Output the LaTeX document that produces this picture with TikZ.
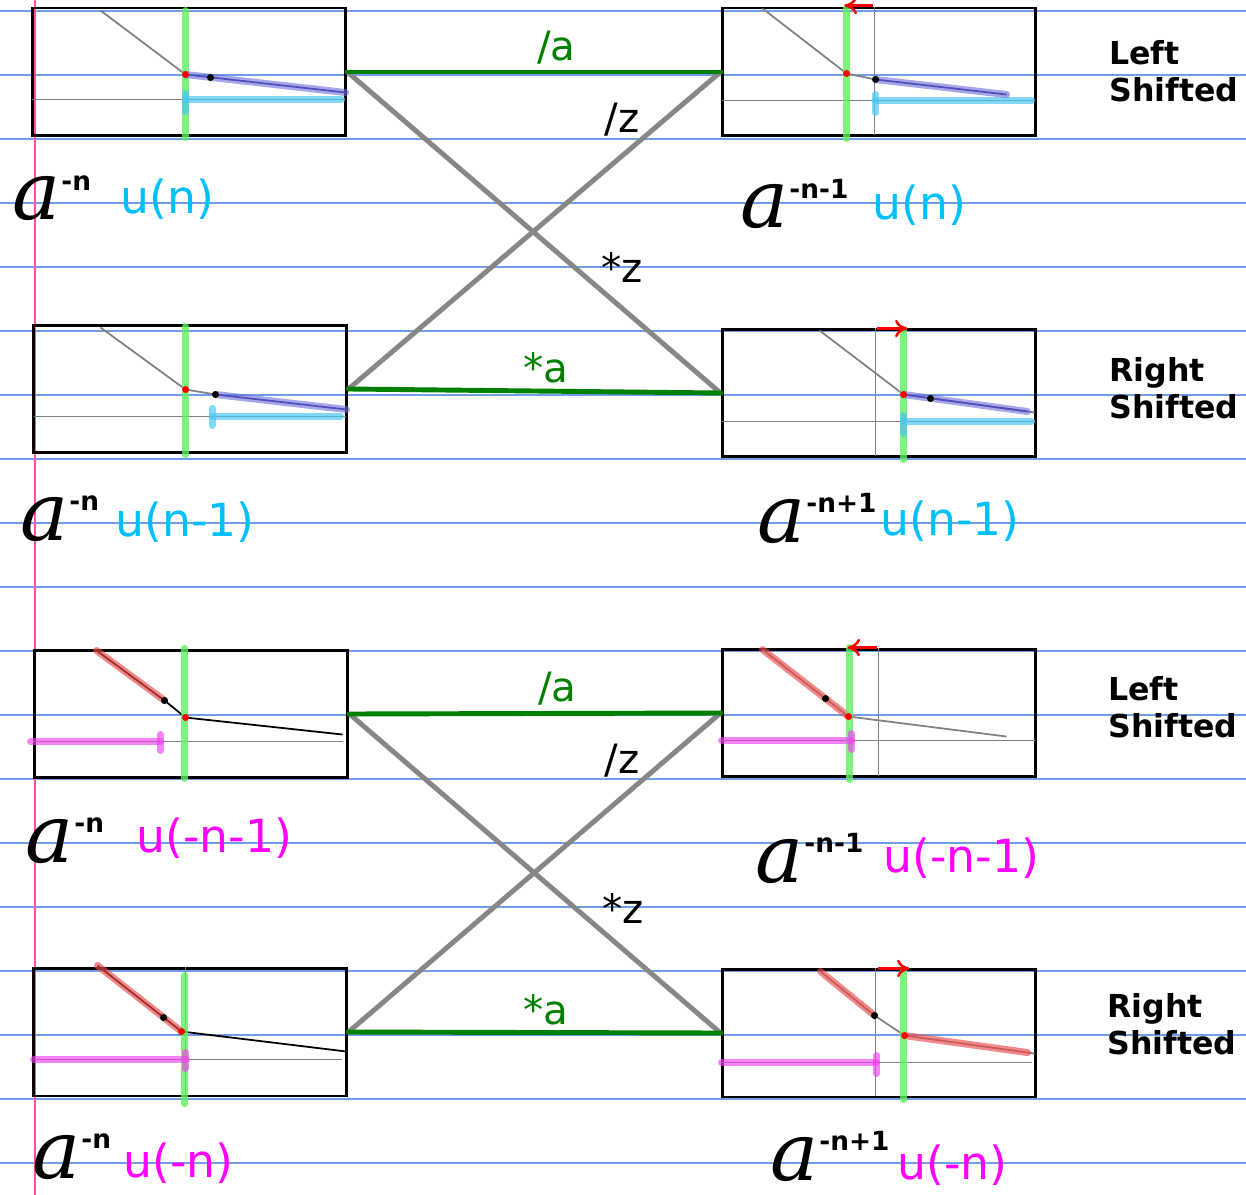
\documentclass[tikz,border=0pt]{standalone}
\usepackage{fontspec}
\setmainfont{DejaVu Sans}
\newfontfamily\handfont{DejaVu Serif}
\usetikzlibrary{arrows.meta}
\definecolor{paperline}{HTML}{6F9FE6}
\definecolor{marginpink}{HTML}{FF4FA8}
\definecolor{linkgreen}{HTML}{008000}
\definecolor{crossgray}{HTML}{878787}
\definecolor{zerogreen}{HTML}{5EF05E}
\definecolor{hlblue}{HTML}{6A6ADC}
\definecolor{coreblue}{HTML}{2A2A80}
\definecolor{hlcyan}{HTML}{4CC6F2}
\definecolor{hlred}{HTML}{EE4A4A}
\definecolor{hlmag}{HTML}{F040F0}
\definecolor{ucyan}{HTML}{00BFFF}
\definecolor{umag}{HTML}{FF00FF}
\newcommand{\apow}[1]{{\fontsize{46}{46}\handfont\itshape a}\kern0.5pt\raisebox{17pt}{\fontsize{15}{15}\selectfont\bfseries #1}}
\tikzset{
  panel/.style={draw,line width=1.7pt,minimum width=6.28cm,minimum height=2.56cm,inner sep=0pt},
  thinln/.style={draw=gray,line width=1pt},
  blackln/.style={draw=black,line width=1pt},
  zeroln/.style={draw=zerogreen,line width=4pt,line cap=round,opacity=0.8},
  bluehl/.style={draw=hlblue,line width=4pt,line cap=round,opacity=0.6},
  bluecore/.style={draw=coreblue,line width=1pt},
  cyanhl/.style={draw=hlcyan,line width=4pt,line cap=round,opacity=0.7},
  redhl/.style={draw=hlred,line width=4pt,line cap=round,opacity=0.65},
  maghl/.style={draw=hlmag,line width=4pt,line cap=round,opacity=0.65},
  reddot/.style={fill=red},
  blkdot/.style={fill=black},
  shiftarr/.style={draw=red,line width=1.4pt,-{To[length=2.5mm,width=3.5mm]}},
  link/.style={draw=linkgreen,line width=2.8pt,line cap=round},
  cross/.style={draw=crossgray,line width=2.8pt,line cap=round},
  lbl/.style={inner sep=1pt,font=\fontsize{23}{23}\selectfont},
  ulabel/.style={anchor=base west,inner sep=0pt,font=\fontsize{26}{26}\selectfont},
  alabel/.style={anchor=base west,inner sep=0pt},
  sidenote/.style={anchor=west,align=left,inner sep=0pt,font=\fontsize{18}{21}\selectfont\bfseries}
}
\begin{document}
\begin{tikzpicture}[x=0.02cm,y=-0.02cm]
  \useasboundingbox (0,0) rectangle (1246,1195);
  % lined paper
  \foreach \k in {0,...,18}
    \draw[paperline,line width=0.6pt] (0,{11+64*\k}) -- (1246,{11+64*\k});
  \draw[marginpink,line width=0.9pt] (35,0) -- (35,1195);

  % plot frames
  \node[panel] (pA) at (189,72) {};
  \node[panel] (pB) at (879,72) {};
  \node[panel] (pC) at (190,389) {};
  \node[panel] (pD) at (879,393) {};
  \node[panel] (pE) at (191,714) {};
  \node[panel] (pF) at (879,713) {};
  \node[panel] (pG) at (190,1032) {};
  \node[panel] (pH) at (879,1033) {};

  % a^-n u(n)
  \begin{scope}[shift={(pA.north west)}]
    \draw[thinln] (1,93) -- (314,93);
    \draw[thinln] (70,4) -- (155,68);
    \draw[zeroln] (155,4) -- (155,131);
    \draw[cyanhl] (155,93) -- (311,93);
    \draw[cyanhl] (155,87) -- (155,105);
    \draw[bluecore] (155,68) -- (315,86);
    \draw[bluehl] (155,68) -- (315,86);
    \fill[reddot] (155,68) circle[radius=2pt];
    \fill[blkdot] (180,71) circle[radius=2pt];
  \end{scope}

  % left shifted
  \begin{scope}[shift={(pB.north west)}]
    \draw[thinln] (1,94) -- (314,94);
    \draw[thinln] (154,0) -- (154,128);
    \draw[thinln] (42,2) -- (126,67) -- (155,73);
    \draw[zeroln] (126,1) -- (126,132);
    \draw[cyanhl] (155,94) -- (311,94);
    \draw[cyanhl] (155,88) -- (155,106);
    \draw[bluecore] (155,73) -- (286,88);
    \draw[bluehl] (155,73) -- (286,88);
    \fill[reddot] (126,67) circle[radius=2pt];
    \fill[blkdot] (155,73) circle[radius=2pt];
    \draw[shiftarr] (152,-1) -- (124,-1);
  \end{scope}

  % a^-n u(n-1)
  \begin{scope}[shift={(pC.north west)}]
    \draw[thinln] (2,93) -- (314,93);
    \draw[thinln] (69,4) -- (154,66) -- (184,71);
    \draw[zeroln] (154,3) -- (154,131);
    \draw[cyanhl] (181,93) -- (309,93);
    \draw[cyanhl] (181,85) -- (181,102);
    \draw[bluecore] (184,71) -- (315,86);
    \draw[bluehl] (184,71) -- (315,86);
    \fill[reddot] (154,66) circle[radius=2pt];
    \fill[blkdot] (184,71) circle[radius=2pt];
  \end{scope}

  % right shifted
  \begin{scope}[shift={(pD.north west)}]
    \draw[thinln] (1,94) -- (314,94);
    \draw[thinln] (155,0) -- (155,128);
    \draw[thinln] (99,3) -- (183,67) -- (314,85);
    \draw[zeroln] (183,2) -- (183,132);
    \draw[cyanhl] (183,94) -- (311,94);
    \draw[cyanhl] (183,88) -- (183,106);
    \draw[bluecore] (183,67) -- (307,84);
    \draw[bluehl] (183,67) -- (307,84);
    \fill[reddot] (183,67) circle[radius=2pt];
    \fill[blkdot] (210,71) circle[radius=2pt];
    \draw[shiftarr] (156,1) -- (187,1);
  \end{scope}

  % a^-n u(-n-1)
  \begin{scope}[shift={(pE.north west)}]
    \draw[thinln] (0,93) -- (310,93);
    \draw[blackln] (64,2) -- (132,52) -- (153,69) -- (310,86);
    \draw[redhl] (64,2) -- (132,52);
    \draw[zeroln] (152,0) -- (152,130);
    \draw[maghl] (-2,93) -- (128,93);
    \draw[maghl] (128,86) -- (128,102);
    \fill[blkdot] (132,52) circle[radius=2pt];
    \fill[reddot] (153,69) circle[radius=2pt];
  \end{scope}

  % left shifted
  \begin{scope}[shift={(pF.north west)}]
    \draw[thinln] (1,93) -- (314,93);
    \draw[thinln] (158,0) -- (158,128);
    \draw[thinln] (42,2) -- (128,69) -- (286,89);
    \draw[redhl] (42,2) -- (128,69);
    \draw[zeroln] (129,0) -- (129,132);
    \draw[maghl] (1,93) -- (131,93);
    \draw[maghl] (131,86) -- (131,102);
    \fill[blkdot] (105,51) circle[radius=2pt];
    \fill[reddot] (128,69) circle[radius=2pt];
    \draw[shiftarr] (156,0) -- (127,0);
  \end{scope}

  % a^-n u(-n)
  \begin{scope}[shift={(pG.north west)}]
    \draw[thinln] (2,93) -- (310,93);
    \draw[thinln] (154,0) -- (154,128);
    \draw[blackln] (66,-1) -- (150,65) -- (315,85);
    \draw[redhl] (66,-1) -- (150,65);
    \draw[zeroln] (153,9) -- (153,137);
    \draw[maghl] (2,93) -- (155,93);
    \draw[maghl] (154,86) -- (154,102);
    \fill[blkdot] (132,51) circle[radius=2pt];
    \fill[reddot] (150,65) circle[radius=2pt];
  \end{scope}

  % right shifted
  \begin{scope}[shift={(pH.north west)}]
    \draw[thinln] (1,95) -- (311,95);
    \draw[thinln] (155,0) -- (155,128);
    \draw[thinln] (100,4) -- (154,48) -- (184,68) -- (314,86);
    \draw[redhl] (100,4) -- (154,48);
    \draw[redhl] (184,68) -- (307,85);
    \draw[zeroln] (183,3) -- (183,132);
    \draw[maghl] (1,95) -- (156,95);
    \draw[maghl] (156,88) -- (156,106);
    \fill[blkdot] (154,48) circle[radius=2pt];
    \fill[reddot] (184,68) circle[radius=2pt];
    \draw[shiftarr] (157,1) -- (189,1);
  \end{scope}

  % connectors, top group
  \draw[cross] (pA.east) -- (pD.west) node[pos=0.67,anchor=south west,lbl] (mzA) {*z};
  \draw[cross] (pB.west) -- (pC.east) node[pos=0.15,left=12pt,lbl] (dzA) {/z};
  \draw[link] (pA.east) -- (pB.west) node[pos=0.56,above=2pt,lbl,text=linkgreen] (daA) {/a};
  \draw[link] (pC.east) -- (pD.west) node[pos=0.53,above=2pt,lbl,text=linkgreen] (maA) {*a};

  % connectors, bottom group
  \draw[cross] (pE.east) -- (pH.west) node[pos=0.67,anchor=south west,lbl] (mzB) {*z};
  \draw[cross] (pF.west) -- (pG.east) node[pos=0.15,left=12pt,lbl] (dzB) {/z};
  \draw[link] (pE.east) -- (pF.west) node[pos=0.56,above=2pt,lbl,text=linkgreen] (daB) {/a};
  \draw[link] (pG.east) -- (pH.west) node[pos=0.53,above=2pt,lbl,text=linkgreen] (maB) {*a};

  % sequence labels
  \node[alabel] (aA) at (12,220) {\apow{-n}};
  \node[ulabel,text=ucyan] (uA) at (120,214) {u(n)};
  \node[alabel] (aB) at (740,228) {\apow{-n-1}};
  \node[ulabel,text=ucyan] (uB) at (872,220) {u(n)};
  \node[alabel] (aC) at (20,540) {\apow{-n}};
  \node[ulabel,text=ucyan] (uC) at (115,536) {u(n-1)};
  \node[alabel] (aD) at (757,542) {\apow{-n+1}};
  \node[ulabel,text=ucyan] (uD) at (880,535) {u(n-1)};
  \node[alabel] (aE) at (25,862) {\apow{-n}};
  \node[ulabel,text=umag] (uE) at (136,852) {u(-n-1)};
  \node[alabel] (aF) at (755,882) {\apow{-n-1}};
  \node[ulabel,text=umag] (uF) at (883,872) {u(-n-1)};
  \node[alabel] (aG) at (32,1178) {\apow{-n}};
  \node[ulabel,text=umag] (uG) at (123,1177) {u(-n)};
  \node[alabel] (aH) at (770,1180) {\apow{-n+1}};
  \node[ulabel,text=umag] (uH) at (897,1179) {u(-n)};

  % shift notes
  \node[sidenote] (sA) at (1109,71) {Left\\Shifted};
  \node[sidenote] (sB) at (1109,388) {Right\\Shifted};
  \node[sidenote] (sC) at (1108,707) {Left\\Shifted};
  \node[sidenote] (sD) at (1107,1024) {Right\\Shifted};
\end{tikzpicture}
\end{document}
